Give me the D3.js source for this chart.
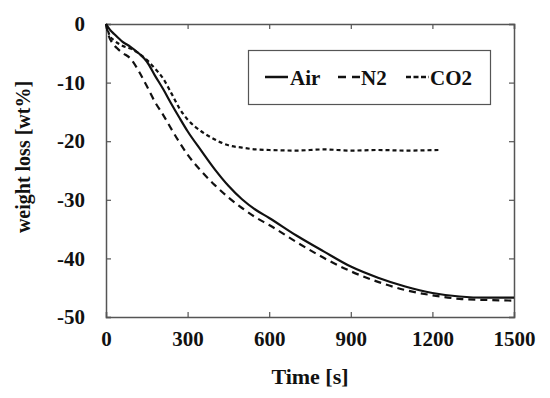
<!DOCTYPE html>
<html>
<head>
<meta charset="utf-8">
<script src="https://cdn.jsdelivr.net/npm/d3@7"></script>
<style>
  body { margin: 0; background: #fff; }
  text { font-family: "Liberation Serif", "Times New Roman", serif; font-weight: bold; fill: #111; }
</style>
</head>
<body>
<div id="chart"></div>
<script>
const width = 550
const height = 398
const margin = { top: 24, right: 36, bottom: 81, left: 106 }

const ink = "#111"
const frame = "#555"

// Air (solid)
const airTime = [0, 15, 30, 60, 90, 120, 150, 180, 210, 240, 270, 300, 350, 400, 450, 500, 550, 600, 700, 800, 900, 1000, 1100, 1200, 1300, 1400, 1500];
const airLoss = [0, -1.0, -1.7, -3.0, -3.9, -5.0, -6.4, -8.8, -11.1, -13.6, -16.0, -18.3, -21.6, -24.8, -27.6, -29.9, -31.7, -33.1, -36.1, -38.8, -41.4, -43.3, -44.8, -45.9, -46.5, -46.7, -46.7];

// N2 (long dash)
const n2Time = [0, 10, 20, 40, 60, 90, 120, 150, 180, 210, 240, 270, 300, 350, 400, 450, 500, 550, 600, 700, 800, 900, 1000, 1100, 1200, 1300, 1400, 1500];
const n2Loss = [0, -2.0, -3.0, -4.1, -4.9, -5.9, -8.0, -10.6, -13.3, -15.5, -17.9, -20.2, -22.3, -25.1, -27.5, -29.6, -31.4, -33.0, -34.3, -37.2, -39.9, -42.2, -44.0, -45.4, -46.3, -46.9, -47.1, -47.2];

// CO2 (short dash)
const co2Time = [0, 15, 30, 60, 90, 120, 150, 180, 210, 240, 270, 300, 350, 400, 450, 500, 550, 600, 700, 800, 900, 1000, 1100, 1222];
const co2Loss = [0, -2.1, -2.8, -3.7, -4.2, -5.0, -6.1, -7.6, -9.3, -11.8, -14.4, -16.3, -18.3, -19.7, -20.7, -21.1, -21.4, -21.5, -21.6, -21.4, -21.6, -21.5, -21.6, -21.5];

const xTicks = [0, 300, 600, 900, 1200, 1500];
const yTicks = [0, -10, -20, -30, -40, -50];

const legendNames = ["Air", "N2", "CO2"];

const svg = d3.select("#chart")
  .append("svg")
  .attr("width", width)
  .attr("height", height);

const x = d3.scaleLinear().domain([0, 1500]).range([margin.left, width - margin.right]);
const y = d3.scaleLinear().domain([-50, 0]).range([height - margin.bottom, margin.top]);

// plain labels: hyphen minus, no thousands separator
const plain = d => String(d);

// axes, ticks point inward on all four sides
function styleAxis(g) {
  g.select(".domain").attr("stroke", frame).attr("stroke-width", 1.5);
  g.selectAll(".tick line").attr("stroke", frame).attr("stroke-width", 1.2);
  g.selectAll("text").attr("font-size", 21).attr("fill", ink);
}

svg.append("g")
  .attr("transform", `translate(0,${y(-50)})`)
  .call(d3.axisBottom(x).tickValues(xTicks).tickSize(-5).tickPadding(14).tickFormat(plain))
  .call(styleAxis);

svg.append("g")
  .attr("transform", `translate(0,${y(0)})`)
  .call(d3.axisTop(x).tickValues(xTicks).tickSize(-5).tickFormat(""))
  .call(styleAxis);

svg.append("g")
  .attr("transform", `translate(${x(0)},0)`)
  .call(d3.axisLeft(y).tickValues(yTicks).tickSize(-5).tickPadding(21).tickFormat(plain))
  .call(styleAxis);

svg.append("g")
  .attr("transform", `translate(${x(1500)},0)`)
  .call(d3.axisRight(y).tickValues(yTicks).tickSize(-5).tickFormat(""))
  .call(styleAxis);

// axis titles
svg.append("text")
  .attr("x", (x(0) + x(1500)) / 2)
  .attr("y", 384)
  .attr("text-anchor", "middle")
  .attr("font-size", 22)
  .text("Time [s]");

svg.append("text")
  .attr("transform", `translate(30,157) rotate(-90)`)
  .attr("text-anchor", "middle")
  .attr("font-size", 20)
  .text("weight loss [wt%]");

// curves
const line = d3.line()
  .x(d => x(d[0]))
  .y(d => y(d[1]))
  .curve(d3.curveMonotoneX);

const series = [
  { pts: d3.zip(airTime, airLoss), dash: null },
  { pts: d3.zip(n2Time, n2Loss), dash: "7,5" },
  { pts: d3.zip(co2Time, co2Loss), dash: "4,3" }
];

series.forEach(s => {
  svg.append("path")
    .datum(s.pts)
    .attr("d", line)
    .attr("fill", "none")
    .attr("stroke", ink)
    .attr("stroke-width", 2.2)
    .attr("stroke-dasharray", s.dash);
});

// legend
const legend = svg.append("g");
legend.append("rect")
  .attr("x", 248.5).attr("y", 50.5)
  .attr("width", 242).attr("height", 54)
  .attr("fill", "#fff")
  .attr("stroke", frame)
  .attr("stroke-width", 1.2);

const legendItems = [
  { x0: 265, x1: 288, dash: null, tx: 290 },
  { x0: 338, x1: 360, dash: "8,6", tx: 361 },
  { x0: 406, x1: 429, dash: "5,2.5", tx: 430 }
];

legendItems.forEach((d, i) => {
  legend.append("line")
    .attr("x1", d.x0).attr("x2", d.x1)
    .attr("y1", 77).attr("y2", 77)
    .attr("stroke", ink)
    .attr("stroke-width", 2.5)
    .attr("stroke-dasharray", d.dash);
  legend.append("text")
    .attr("x", d.tx)
    .attr("y", 85)
    .attr("font-size", 21)
    .text(legendNames[i]);
});
</script>
</body>
</html>
